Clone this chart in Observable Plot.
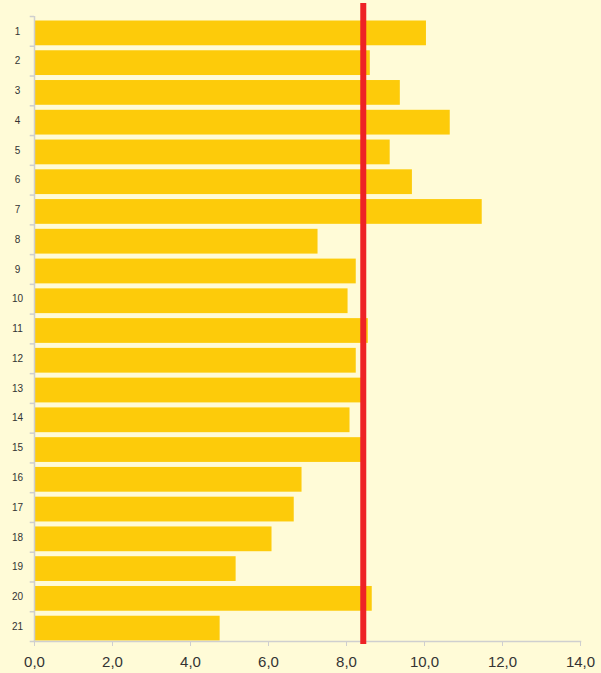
<!DOCTYPE html>
<html>
<head>
<meta charset="utf-8">
<script src="https://cdn.jsdelivr.net/npm/d3@7"></script>
<script src="https://cdn.jsdelivr.net/npm/@observablehq/plot@0.6"></script>
<style>
  html, body { margin: 0; padding: 0; background: #FFFBD7; }
  #chart { width: 601px; height: 673px; }
</style>
</head>
<body>
<div id="chart"></div>
<script>
const categories = ["1","2","3","4","5","6","7","8","9","10","11","12","13","14","15","16","17","18","19","20","21"];
const values = [10.05, 8.61, 9.38, 10.66, 9.12, 9.69, 11.48, 7.27, 8.25, 8.04, 8.56, 8.25, 8.42, 8.09, 8.42, 6.86, 6.66, 6.09, 5.17, 8.66, 4.76];
const referenceValue = 8.43;
const xTicks = [0, 2, 4, 6, 8, 10, 12, 14];

const data = categories.map((c, i) => ({cat: c, value: values[i]}));

const W = 601, H = 673, mTop = 16, mBottom = 32, mLeft = 34, mRight = 21;
const step = (H - mTop - mBottom) / categories.length;
const fmt = d => d3.format(".1f")(d).replace(".", ",");

const chart = Plot.plot({
  width: W,
  height: H,
  marginTop: mTop,
  marginBottom: mBottom,
  marginLeft: mLeft,
  marginRight: mRight,
  style: {background: "#FFFBD7", fontFamily: "Liberation Sans, Arial, sans-serif", color: "#404040"},
  x: {domain: [0, 14]},
  y: {domain: categories, padding: 0, round: false},
  marks: [
    Plot.barX(data, {x: "value", y: "cat", fill: "#FDCB0A", insetTop: 4.5, insetBottom: 0.5}),
    Plot.ruleY(categories, {y: d => d, x1: -0.11, x2: 0, dy: -step / 2, stroke: "#cfcfcf", strokeWidth: 1.5}),
    Plot.ruleY([categories[categories.length - 1]], {y: d => d, x1: -0.11, x2: 0, dy: step / 2, stroke: "#cfcfcf", strokeWidth: 1.5}),
    Plot.ruleX([0], {stroke: "#cfcfcf", strokeWidth: 1.5}),
    Plot.frame({anchor: "bottom", stroke: "#cfcfcf", strokeWidth: 1.5}),
    Plot.axisY({tickSize: 0, tickPadding: 17, textAnchor: "middle", fontSize: 10, fill: "#333", label: null}),
    Plot.axisX({ticks: xTicks, tickSize: 5, tickFormat: fmt, fontSize: 15, tickPadding: 10, stroke: "#cfcfcf", fill: "#333", label: null}),
    Plot.ruleX([referenceValue], {stroke: "#EE2225", strokeWidth: 6, insetTop: -13, insetBottom: -3})
  ]
});
document.getElementById("chart").appendChild(chart);
</script>
</body>
</html>
